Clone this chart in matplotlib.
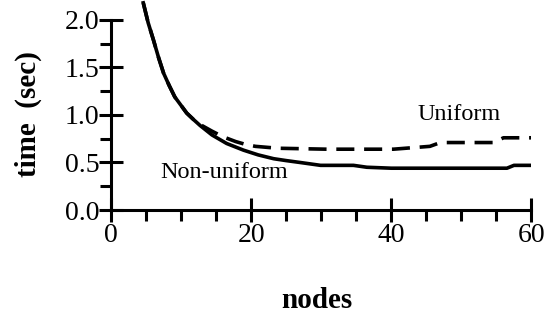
import matplotlib.pyplot as plt
import numpy as np
from matplotlib.ticker import MultipleLocator

plt.rcParams['font.family'] = ['Liberation Serif', 'DejaVu Serif']

# Non-uniform (solid)
nu_x = [4.6, 5.3, 6.05, 6.8, 7.5, 8.3, 9.1, 10.0, 10.8, 11.8, 12.7, 14.4, 16.5, 18.9, 21.0,
        23.2, 25.0, 27.0, 29.9, 34.6, 36.5, 40.0, 46.0, 52.0, 56.5, 57.5, 60.0]
nu_y = [2.18, 1.97, 1.79, 1.60, 1.44, 1.31, 1.19, 1.10, 1.02, 0.95, 0.89, 0.79, 0.70, 0.63, 0.58,
        0.54, 0.52, 0.50, 0.47, 0.47, 0.45, 0.44, 0.44, 0.44, 0.44, 0.47, 0.47]

# Uniform (dashed)
u_x = [4.6, 5.3, 6.05, 6.8, 7.5, 8.3, 9.1, 10.0, 10.8, 11.8, 12.7, 14.4, 16.0, 17.8, 19.2,
       20.6, 23.8, 30.8, 40.3, 45.5, 47.0, 54.6, 56.0, 60.0]
u_y = [2.18, 1.97, 1.79, 1.60, 1.44, 1.31, 1.19, 1.10, 1.02, 0.95, 0.90, 0.83, 0.77, 0.72, 0.69,
       0.67, 0.65, 0.64, 0.64, 0.67, 0.71, 0.71, 0.76, 0.76]

fig = plt.figure(figsize=(5.51, 3.16), dpi=100)
ax = fig.add_axes([0.2015, 0.3354, 0.7631, 0.6646])

ax.plot(nu_x, nu_y, 'k-', lw=2.6)
ax.plot(u_x, u_y, 'k--', lw=2.6, dashes=(5, 2.7))

ax.set_xlim(0, 60)
ax.set_ylim(0, 2.21)

for s in ['top', 'right']:
    ax.spines[s].set_visible(False)
ax.spines['left'].set_bounds(0, 2.0)
ax.spines['left'].set_linewidth(2.2)
ax.spines['bottom'].set_linewidth(2.2)

ax.set_xticks([0, 20, 40, 60])
ax.set_yticks([0, 0.5, 1.0, 1.5, 2.0])
ax.set_yticklabels(['0.0', '0.5', '1.0', '1.5', '2.0'])
ax.xaxis.set_minor_locator(MultipleLocator(5))
ax.yaxis.set_minor_locator(MultipleLocator(0.25))
ax.tick_params(axis='both', which='major', direction='inout', length=17, width=2.2, labelsize=20)
ax.tick_params(axis='both', which='minor', direction='out', length=8, width=2.2)
ax.tick_params(axis='y', which='major', pad=0)
ax.tick_params(axis='x', which='major', pad=1)

ax.text(43.7, 1.0, 'Uniform', fontsize=17.5, ha='left', va='center')
ax.text(7, 0.39, 'Non-uniform', fontsize=17.5, ha='left', va='center')

ax.set_xlabel('nodes', fontsize=21, fontweight='bold')
ax.xaxis.set_label_coords(0.49, -0.365)
ax.set_ylabel('time  (sec)', fontsize=21, fontweight='bold')
ax.yaxis.set_label_coords(-0.165, 0.455)

fig.savefig('out.png', dpi=100)
